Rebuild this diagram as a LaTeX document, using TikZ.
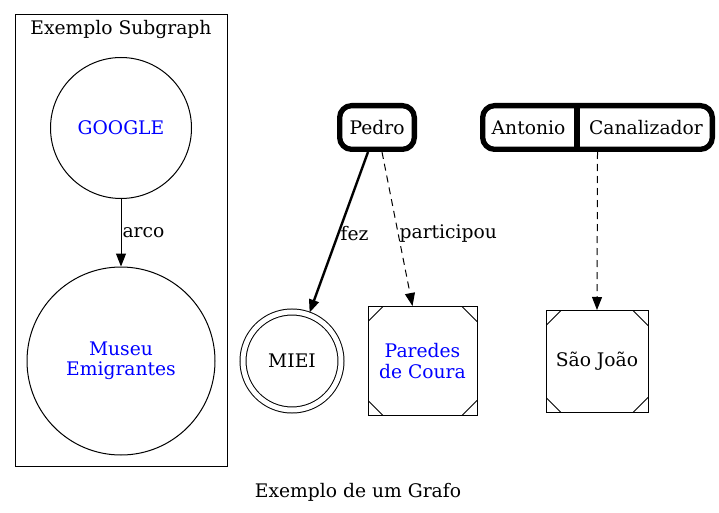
\documentclass[tikz,border=0pt]{standalone}
\usepackage{fontspec}
\setmainfont{DejaVu Serif}
\usetikzlibrary{arrows.meta}

\tikzset{
	vertex/.style={draw, circle, inner sep=0pt, line width=1pt, align=center},
	msquare/.style={draw, line width=1pt, inner sep=0pt, align=center,
		path picture={
			\draw[line width=1pt] ([xshift=15pt]path picture bounding box.north west) -- ([yshift=-15pt]path picture bounding box.north west);
			\draw[line width=1pt] ([xshift=-15pt]path picture bounding box.north east) -- ([yshift=-15pt]path picture bounding box.north east);
			\draw[line width=1pt] ([xshift=15pt]path picture bounding box.south west) -- ([yshift=15pt]path picture bounding box.south west);
			\draw[line width=1pt] ([xshift=-15pt]path picture bounding box.south east) -- ([yshift=15pt]path picture bounding box.south east);
		}},
	boldbox/.style={draw, line width=5.3pt, rounded corners=12pt, inner sep=0pt},
	edge/.style={line width=1pt, -{Triangle[length=13pt,width=10pt]}},
	rel/.style={right, inner sep=1pt}
}

\begin{document}
\begin{tikzpicture}[x=1pt, y=-1pt, font=\fontsize{18.7}{20.5}\selectfont]
	\useasboundingbox (0,0) rectangle (719,513);
	% subgraph
	\draw[line width=1pt] (15,15) rectangle (227,466);
	\node (sgname) at (121,29) {Exemplo Subgraph};
	\node[vertex, text=blue, minimum size=141pt] (google) at (121,128) {GOOGLE};
	\node[vertex, text=blue, minimum size=188pt] (museu) at (121,361) {Museu\\Emigrantes};
	\draw[edge] (google) -- node[rel] {arco} (museu);
	% pessoas
	\node[boldbox, minimum width=74.7pt, minimum height=43.7pt] (pedro) at (377,127.5) {Pedro};
	\node[boldbox, minimum width=229.7pt, minimum height=43.7pt] (rec) at (597.5,127.5) {};
	\node (ant) at (528.5,127.5) {Antonio};
	\node (can) at (646,127.5) {Canalizador};
	\draw[line width=5.3pt] (577,105) -- (577,150);
	% destinos
	\node[vertex, minimum size=98pt, double, double distance=5pt] (miei) at (292,361) {MIEI};
	\node[msquare, text=blue, minimum width=109pt, minimum height=109pt] (pc) at (422.5,361) {Paredes\\de Coura};
	\node[msquare, minimum width=102pt, minimum height=102pt] (sj) at (597,361.5) {São João};
	\draw[edge, line width=2.4pt, shorten >=2pt] ([xshift=-9pt]pedro.south) -- node[rel, pos=0.5] {fez} (miei);
	\draw[edge, dash pattern=on 7pt off 5pt] ([xshift=5pt]pedro.south) -- node[rel, pos=0.53] {participou} ([xshift=-10pt]pc.north);
	\draw[edge, dash pattern=on 7pt off 5pt] (rec.south) -- (sj.north);
	\node (caption) at (358,492) {Exemplo de um Grafo};
\end{tikzpicture}
\end{document}
